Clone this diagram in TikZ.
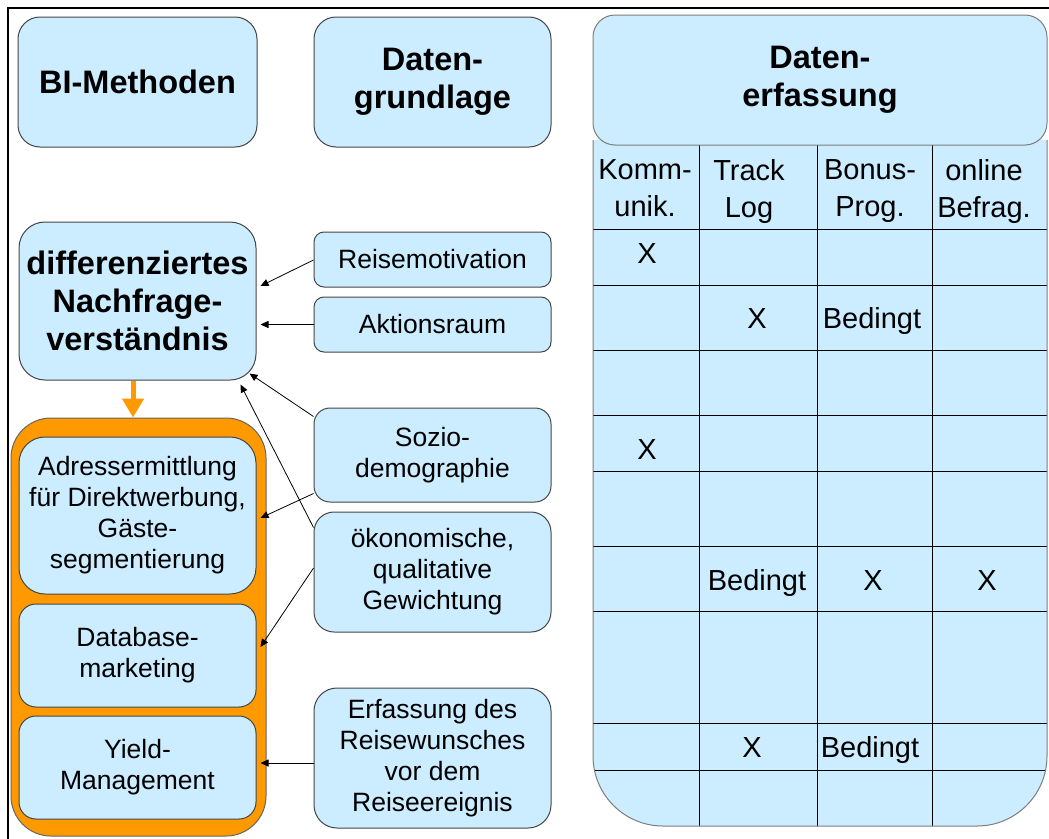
\documentclass[tikz,border=0pt]{standalone}
\usepackage{fontspec}
\setmainfont{Liberation Sans}
\usetikzlibrary{arrows.meta,calc}
\definecolor{boxblue}{RGB}{204,236,255}
\definecolor{boxorange}{RGB}{255,153,0}
\definecolor{boxline}{RGB}{70,70,70}
\definecolor{tableline}{RGB}{125,125,125}
\begin{document}
\begin{tikzpicture}[x=1pt,y=-1pt,
  box/.style={draw=boxline,line width=1pt,fill=boxblue,inner sep=0pt,align=center},
  headtxt/.style={font=\bfseries\fontsize{32.5}{38}\selectfont},
  bodytxt/.style={font=\fontsize{26.5}{31}\selectfont},
  celltxt/.style={font=\fontsize{29}{37}\selectfont,inner sep=0pt,align=center},
  grid/.style={draw=black,line width=0.9pt},
  conn/.style={draw=black,line width=0.8pt,-{Triangle[length=8pt,width=7pt]}},
  bigarrow/.style={draw=boxorange,line width=5pt,-{Triangle[length=19pt,width=21pt]}},
]
\useasboundingbox (0,0) rectangle (1049,838);
\fill[white] (0,0) rectangle (1049,838);

% outer frame (left and top edges)
\draw[line width=2pt] (8,842) -- (8,8) -- (1053,8);

% ---- column headings
\node[box,headtxt,minimum width=239pt,minimum height=130pt,rounded corners=22pt] (bim) at (137.5,82) {BI-Methoden};
\node[box,headtxt,minimum width=237pt,minimum height=130pt,rounded corners=22pt] (dgl) at (432.5,82) {Daten-\\grundlage};

% ---- BI methods
\node[box,headtxt,minimum width=237pt,minimum height=158pt,rounded corners=26pt] (dn) at (137.5,301)
  {differenziertes\\Nachfrage-\\verständnis};

\node[draw=black!60,line width=1pt,fill=boxorange,inner sep=0pt,minimum width=255pt,minimum height=418pt,rounded corners=40pt] (orng) at (138.5,627) {};
\node[box,bodytxt,minimum width=237pt,minimum height=157pt,rounded corners=26pt] (adr) at (137.5,515.5)
  {Adressermittlung\\für Direktwerbung,\\Gäste-\\segmentierung};
\node[box,bodytxt,minimum width=237pt,minimum height=103pt,rounded corners=17pt] (dbm) at (137.5,655.5)
  {Database-\\marketing};
\node[box,bodytxt,minimum width=237pt,minimum height=103pt,rounded corners=17pt] (yld) at (137.5,767.5)
  {Yield-\\Management};

% ---- data basis
\node[box,bodytxt,minimum width=237pt,minimum height=55pt,rounded corners=10pt] (reise) at (432.5,259.5) {Reisemotivation};
\node[box,bodytxt,minimum width=237pt,minimum height=55pt,rounded corners=10pt] (akt) at (432.5,324.5) {Aktionsraum};
\node[box,bodytxt,minimum width=237pt,minimum height=94pt,rounded corners=16pt] (soz) at (432.5,455) {Sozio-\\demographie};
\node[box,bodytxt,minimum width=237pt,minimum height=120pt,rounded corners=20pt] (oek) at (432.5,572)
  {ökonomische,\\qualitative\\Gewichtung};
\node[box,bodytxt,minimum width=237pt,minimum height=140pt,rounded corners=23pt] (erf) at (432.5,758)
  {Erfassung des\\Reisewunsches\\vor dem\\Reiseereignis};

% ---- connectors
\coordinate (oa) at ($(dn.south)+(-4.5,0)$);
\draw[bigarrow] (oa) -- (oa |- orng.north);

\draw[conn] ($(reise.west)+(0,0.5)$) -- ($(dn.east)+(4,-15)$);
\draw[conn,shorten >=4pt] (akt.west) -- (akt.west -| dn.east);
\draw[conn] ($(soz.north west)+(0,9)$) -- ($(dn.south east)+(-7,-7)$);
\draw[conn] ($(oek.north west)+(0,16)$) -- ($(dn.south east)+(-16,4)$);
\draw[conn] ($(soz.south west)+(0,-9)$) -- ($(adr.east)+(4,2.5)$);
\draw[conn] ($(oek.west)+(0,-4)$) -- ($(dbm.east)+(4,-8.5)$);
\coordinate (ea) at ($(erf.west)+(0,5)$);
\draw[conn,shorten >=4pt] (ea) -- (ea -| yld.east);

% ---- data capture table
\path[fill=boxblue,rounded corners=70pt] (593,140) -- (593,826) -- (1047,826) -- (1047,140);
\begin{scope}
  \clip[rounded corners=70pt] (593,140) -- (593,826) -- (1047,826) -- (1047,140);
  \foreach \cx in {699,817,932} \draw[grid] (\cx,140) -- (\cx,830);
  \foreach \ry in {229,285,350,415,471,546,611,723,770} \draw[grid] (590,\ry) -- (1050,\ry);
\end{scope}
\draw[draw=tableline,line width=1pt,rounded corners=70pt] (593,140) -- (593,826) -- (1047,826) -- (1047,140);
\node[box,headtxt,draw=tableline,minimum width=454pt,minimum height=130pt,rounded corners=22pt] (dhead) at (820,80)
  {\fontsize{32.5}{34}\selectfont Daten-\\erfassung};

% table headings
\node[celltxt,anchor=north] (h1) at (645,159) {Komm-\\unik.};
\node[celltxt,anchor=north] (h2) at (749,159) {Track\\Log};
\node[celltxt,anchor=north] (h3) at (870,159) {Bonus-\\Prog.};
\node[celltxt,anchor=north] (h4) at (984,159) {online\\Befrag.};

% table entries
\node[celltxt,anchor=base] (c11) at (647,263) {X};
\node[celltxt,anchor=base] (c22) at (757,328) {X};
\node[celltxt,anchor=base] (c23) at (872,328) {Bedingt};
\node[celltxt,anchor=base] (c41) at (647,459) {X};
\node[celltxt,anchor=base] (c62) at (757,590) {Bedingt};
\node[celltxt,anchor=base] (c63) at (873,590) {X};
\node[celltxt,anchor=base] (c64) at (987,590) {X};
\node[celltxt,anchor=base] (c82) at (752,757) {X};
\node[celltxt,anchor=base] (c83) at (870,757) {Bedingt};
\end{tikzpicture}
\end{document}
